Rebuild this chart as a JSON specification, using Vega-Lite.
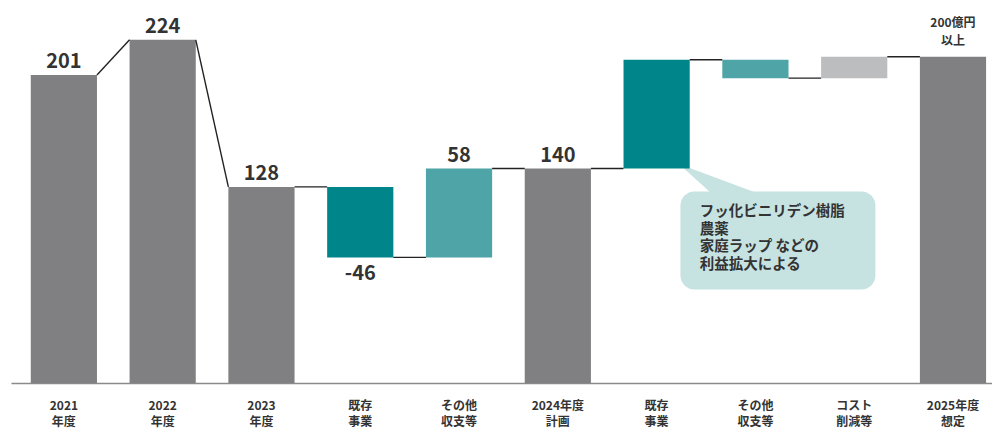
{
  "$schema": "https://vega.github.io/schema/vega-lite/v6.json",
  "width": 981,
  "height": 383,
  "autosize": "none",
  "padding": {"left": 11, "right": 0, "top": 0, "bottom": 46},
  "background": "white",
  "datasets": {
    "bars": [
      {"cat": "2021|年度", "start": 0, "end": 201, "kind": "total", "label": "201"},
      {"cat": "2022|年度", "start": 0, "end": 224, "kind": "total", "label": "224"},
      {"cat": "2023|年度", "start": 0, "end": 128, "kind": "total", "label": "128"},
      {"cat": "既存|事業|a", "start": 128, "end": 82, "kind": "kizon", "label": "-46"},
      {"cat": "その他|収支等|a", "start": 82, "end": 140, "kind": "sonota", "label": "58"},
      {"cat": "2024年度|計画", "start": 0, "end": 140, "kind": "total", "label": "140"},
      {"cat": "既存|事業|b", "start": 140, "end": 211, "kind": "kizon", "label": ""},
      {"cat": "その他|収支等|b", "start": 211, "end": 199, "kind": "sonota", "label": ""},
      {"cat": "コスト|削減等", "start": 199, "end": 213, "kind": "cost", "label": ""},
      {"cat": "2025年度|想定", "start": 0, "end": 213, "kind": "total2025", "label": "200億円\n以上"}
    ],
    "links": [
      {"from": "2021|年度", "to": "2022|年度", "y1": 201, "y2": 224},
      {"from": "2022|年度", "to": "2023|年度", "y1": 224, "y2": 128},
      {"from": "2023|年度", "to": "既存|事業|a", "y1": 128, "y2": 128},
      {"from": "既存|事業|a", "to": "その他|収支等|a", "y1": 82, "y2": 82},
      {"from": "その他|収支等|a", "to": "2024年度|計画", "y1": 140, "y2": 140},
      {"from": "2024年度|計画", "to": "既存|事業|b", "y1": 140, "y2": 140},
      {"from": "既存|事業|b", "to": "その他|収支等|b", "y1": 211, "y2": 211},
      {"from": "その他|収支等|b", "to": "コスト|削減等", "y1": 199, "y2": 199},
      {"from": "コスト|削減等", "to": "2025年度|想定", "y1": 213, "y2": 213}
    ],
    "callout": [
      {"from": "既存|事業|b", "to": "コスト|削減等", "top": 125, "bottom": 61, "tip": 143, "textY": 116, "text": "フッ化ビニリデン樹脂\n農薬\n家庭ラップ などの\n利益拡大による"}
    ]
  },
  "config": {
    "view": {"stroke": null},
    "axisX": {
      "title": null,
      "ticks": false,
      "domainColor": "#8a8a8a",
      "domainWidth": 1.6,
      "labelAngle": 0,
      "labelFont": "Noto Sans CJK JP",
      "labelFontSize": 12,
      "labelFontWeight": "bold",
      "labelColor": "#333333",
      "labelPadding": 17,
      "labelLineHeight": 16,
      "labelExpr": "slice(split(datum.value, '|'), 0, 2)"
    },
    "text": {"font": "Noto Sans CJK JP", "color": "#333333"}
  },
  "layer": [
    {
      "data": {"name": "callout"},
      "mark": {"type": "point", "filled": true, "shape": "M0,0L34,31L83,31Z", "size": 4, "color": "#c6e2e1", "opacity": 1, "strokeWidth": 0},
      "encoding": {
        "x": {"field": "from", "type": "nominal", "bandPosition": 0.84, "scale": {"type": "band", "domain": ["2021|年度", "2022|年度", "2023|年度", "既存|事業|a", "その他|収支等|a", "2024年度|計画", "既存|事業|b", "その他|収支等|b", "コスト|削減等", "2025年度|想定"], "paddingInner": 0.33, "paddingOuter": 0.13, "align": 0.77}},
        "y": {"field": "tip", "type": "quantitative", "axis": null, "scale": {"domain": [0, 250], "nice": false, "zero": true}}
      }
    },
    {
      "data": {"name": "callout"},
      "mark": {"type": "rect", "color": "#c6e2e1", "cornerRadius": 14},
      "encoding": {
        "x": {"field": "from", "type": "nominal", "bandPosition": 0.86},
        "x2": {"field": "to", "bandPosition": 0.82},
        "y": {"field": "top", "type": "quantitative", "axis": null, "scale": {"domain": [0, 250], "nice": false}},
        "y2": {"field": "bottom"}
      }
    },
    {
      "data": {"name": "callout"},
      "mark": {"type": "text", "align": "left", "baseline": "top", "lineBreak": "\n", "fontSize": 14.5, "lineHeight": 17.5, "fontWeight": "bold"},
      "encoding": {
        "x": {"field": "from", "type": "nominal", "bandPosition": 1.15},
        "y": {"field": "textY", "type": "quantitative", "axis": null, "scale": {"domain": [0, 250], "nice": false}},
        "text": {"field": "text"}
      }
    },
    {
      "data": {"name": "bars"},
      "mark": {"type": "bar"},
      "encoding": {
        "x": {"field": "cat", "type": "nominal"},
        "y": {"field": "start", "type": "quantitative", "axis": null, "scale": {"domain": [0, 250], "nice": false}},
        "y2": {"field": "end"},
        "color": {"field": "kind", "type": "nominal", "legend": null, "scale": {"domain": ["total", "kizon", "sonota", "cost", "total2025"], "range": ["#808082", "#00868a", "#4ea4a6", "#bcbdbf", "#808082"]}}
      }
    },
    {
      "data": {"name": "links"},
      "mark": {"type": "rule", "color": "#222222", "strokeWidth": 1.4},
      "encoding": {
        "x": {"field": "from", "type": "nominal", "bandPosition": 1},
        "x2": {"field": "to", "bandPosition": 0},
        "y": {"field": "y1", "type": "quantitative", "axis": null, "scale": {"domain": [0, 250], "nice": false}},
        "y2": {"field": "y2"}
      }
    },
    {
      "data": {"name": "bars"},
      "transform": [{"filter": "datum.label != '' && datum.kind != 'kizon' && datum.kind != 'total2025'"}],
      "mark": {"type": "text", "baseline": "alphabetic", "dy": -7, "fontSize": 20, "fontWeight": 600},
      "encoding": {
        "x": {"field": "cat", "type": "nominal"},
        "y": {"field": "end", "type": "quantitative", "axis": null, "scale": {"domain": [0, 250], "nice": false}},
        "text": {"field": "label"}
      }
    },
    {
      "data": {"name": "bars"},
      "transform": [{"filter": "datum.kind == 'kizon' && datum.label != ''"}],
      "mark": {"type": "text", "baseline": "top", "dy": 7, "fontSize": 20, "fontWeight": 600},
      "encoding": {
        "x": {"field": "cat", "type": "nominal"},
        "y": {"field": "end", "type": "quantitative", "axis": null, "scale": {"domain": [0, 250], "nice": false}},
        "text": {"field": "label"}
      }
    },
    {
      "data": {"name": "bars"},
      "transform": [{"filter": "datum.kind == 'total2025'"}],
      "mark": {"type": "text", "baseline": "bottom", "dy": -27, "fontSize": 12, "fontWeight": "bold", "lineBreak": "\n", "lineHeight": 18},
      "encoding": {
        "x": {"field": "cat", "type": "nominal"},
        "y": {"field": "end", "type": "quantitative", "axis": null, "scale": {"domain": [0, 250], "nice": false}},
        "text": {"field": "label"}
      }
    }
  ]
}
